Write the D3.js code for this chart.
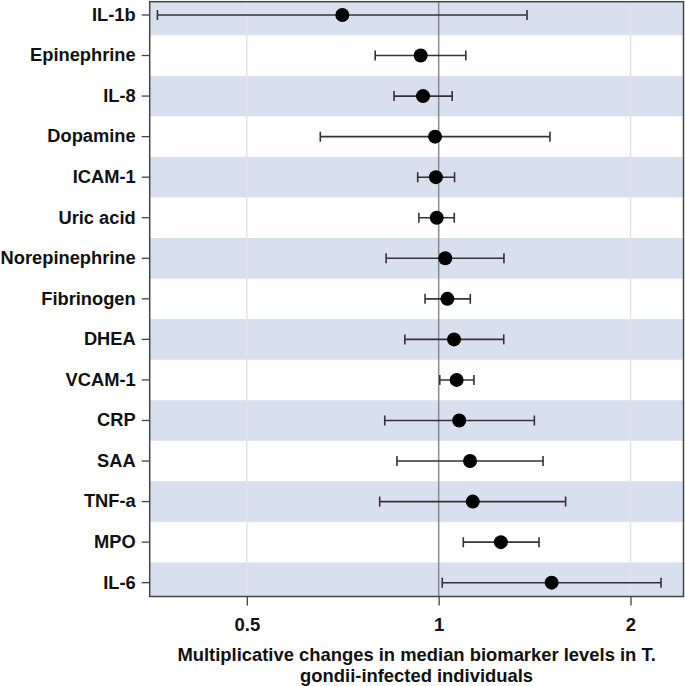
<!DOCTYPE html>
<html><head><meta charset="utf-8">
<script src="https://cdn.jsdelivr.net/npm/d3@7"></script>
<style>body{margin:0;background:#fff}</style>
</head><body><svg id="c" width="685" height="686"></svg>
<script>
const biomarkers = ["IL-1b","Epinephrine","IL-8","Dopamine","ICAM-1","Uric acid","Norepinephrine","Fibrinogen","DHEA","VCAM-1","CRP","SAA","TNF-a","MPO","IL-6"];
const estimates = [0.706,0.937,0.945,0.987,0.990,0.993,1.024,1.032,1.057,1.067,1.077,1.120,1.131,1.252,1.504];
const lower     = [0.362,0.795,0.851,0.652,0.927,0.931,0.827,0.952,0.885,1.004,0.823,0.860,0.808,1.093,1.013];
const upper     = [1.376,1.103,1.050,1.495,1.059,1.058,1.266,1.121,1.265,1.136,1.413,1.458,1.582,1.437,2.233];
const xTicks = [0.5, 1, 2];
const xDomain = [0.352, 2.422];
const xTitle = ["Multiplicative changes in median biomarker levels in T.", "gondii-infected individuals"];

const rows = biomarkers.map((b,i)=>({name:b, est:estimates[i], lo:lower[i], hi:upper[i], i}));

const svg = d3.select("#c");
const P = {left:149.7, right:683.5, top:1.7, bottom:596.5};
const x = d3.scaleLog().domain(xDomain).range([P.left, P.right]);
const y = d3.scaleBand().domain(biomarkers).range([-5.3, 602.95]).padding(0);
const font = "'Liberation Sans', Arial, sans-serif";

svg.append("defs").append("clipPath").attr("id","clip")
  .append("rect").attr("x",P.left).attr("y",P.top).attr("width",P.right-P.left).attr("height",P.bottom-P.top);

const g = svg.append("g").attr("clip-path","url(#clip)");
g.selectAll("rect.band").data(rows.filter(d=>d.i%2===0)).join("rect")
  .attr("class","band")
  .attr("x",P.left).attr("width",P.right-P.left)
  .attr("y",d=>y(d.name)).attr("height",y.bandwidth())
  .attr("fill","#d8dfee");

// grid lines
g.selectAll("line.grid").data(xTicks.filter(t=>t!==1)).join("line")
  .attr("x1",d=>x(d)).attr("x2",d=>x(d)).attr("y1",P.top).attr("y2",P.bottom)
  .attr("stroke","#e3e3e3").attr("stroke-width",1.5);
// reference line
g.append("line").attr("x1",x(1)).attr("x2",x(1)).attr("y1",P.top).attr("y2",P.bottom)
  .attr("stroke","#8a8a8a").attr("stroke-width",1.5);

// error bars
const cy = d=>y(d.name)+y.bandwidth()/2;
const eb = g.selectAll("g.eb").data(rows).join("g").attr("class","eb")
  .attr("stroke","#333").attr("stroke-width",1.6);
eb.append("line").attr("x1",d=>x(d.lo)).attr("x2",d=>x(d.hi)).attr("y1",cy).attr("y2",cy);
eb.append("line").attr("x1",d=>x(d.lo)).attr("x2",d=>x(d.lo)).attr("y1",d=>cy(d)-5).attr("y2",d=>cy(d)+5);
eb.append("line").attr("x1",d=>x(d.hi)).attr("x2",d=>x(d.hi)).attr("y1",d=>cy(d)-5).attr("y2",d=>cy(d)+5);
g.selectAll("circle.pt").data(rows).join("circle").attr("class","pt")
  .attr("cx",d=>x(d.est)).attr("cy",cy).attr("r",7).attr("fill","#000");

// frame
svg.append("rect").attr("x",P.left).attr("y",P.top).attr("width",P.right-P.left).attr("height",P.bottom-P.top)
  .attr("fill","none").attr("stroke","#444").attr("stroke-width",1.5);

// y axis
const ya = svg.append("g").attr("transform",`translate(${P.left},0)`)
  .call(d3.axisLeft(y).tickSize(8).tickPadding(6));
ya.select(".domain").remove();
ya.selectAll(".tick line").attr("stroke","#444").attr("stroke-width",1.3);
ya.selectAll(".tick text").attr("font-family",font).attr("font-size",18.3).attr("font-weight","bold").attr("fill","#111");

// x axis
const xa = svg.append("g").attr("transform",`translate(0,${P.bottom})`)
  .call(d3.axisBottom(x).tickValues(xTicks).tickFormat(d3.format("")).tickSize(9).tickPadding(12));
xa.select(".domain").remove();
xa.selectAll(".tick line").attr("stroke","#444").attr("stroke-width",1.3);
xa.selectAll(".tick text").attr("font-family",font).attr("font-size",18.5).attr("font-weight","bold").attr("fill","#111");

// x title
svg.append("text").attr("x",(P.left+P.right)/2).attr("y",661)
  .attr("text-anchor","middle").attr("font-family",font).attr("font-size",18.4).attr("font-weight","bold").attr("fill","#111")
  .selectAll("tspan").data(xTitle).join("tspan")
  .attr("x",(P.left+P.right)/2).attr("dy",(d,i)=>i===0?0:21).text(d=>d);
</script></body></html>
